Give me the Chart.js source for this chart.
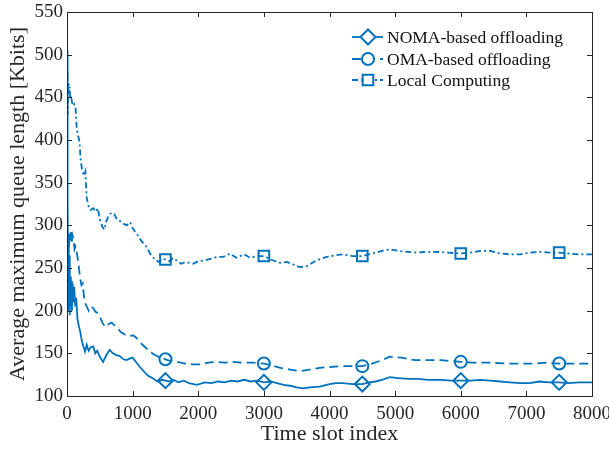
<!DOCTYPE html>
<html>
<head>
<meta charset="utf-8">
<script src="https://cdn.jsdelivr.net/npm/chart.js@4.4.0/dist/chart.umd.min.js"></script>
<style>
  html, body { margin: 0; padding: 0; background: #fff; }
  #wrap { width: 609px; height: 449px; }
</style>
</head>
<body>
<div id="wrap"><canvas id="chart"></canvas></div>
<script>
'use strict'

// data
const nomaX = [0,3,6,10,14,18,24,30,36,42,50,58,66,75,85,95,110,125,140,160,180,200,225,250,275,300,330,360,400,430,460,500,550,600,650,700,750,800,860,910,960,1000,1060,1110,1170,1230,1300,1380,1450,1500,1560,1620,1700,1780,1860,1980,2100,2200,2300,2400,2500,2600,2700,2800,2900,3000,3100,3200,3300,3400,3500,3600,3700,3850,4000,4100,4200,4350,4500,4600,4700,4800,4920,5050,5200,5350,5500,5700,5850,6000,6150,6300,6450,6600,6750,6900,7050,7200,7350,7500,7650,7800,8000]
const nomaY = [505,300,420,260,330,240,290,200,265,195,240,205,235,200,232,210,228,205,215,190,182,176,165,158,152,160,153,157,158,150,153,146,140,148,154,150,148,147,143,142,144,145,139,134,129,124,121,117,119,118,117,119,116,118,115,113,116,115,117,116,118,117,119,117,118,116,117,115,113,112,110,109,110,111,114,115,115,114,114,116,117,119,122,121,120,120,119,119,118,118,118,119,118,117,116,115,115,117,116,116,115,116,116]

const omaX = [0,5,10,16,22,30,40,50,60,70,85,100,115,130,150,175,200,220,240,260,280,300,330,360,400,430,470,500,540,580,630,680,720,760,820,880,940,1010,1060,1110,1180,1260,1340,1420,1500,1580,1670,1800,1920,2030,2150,2280,2400,2530,2650,2760,2840,3000,3120,3250,3400,3550,3700,3850,4000,4200,4350,4500,4650,4800,4920,5100,5300,5500,5700,5850,6000,6200,6450,6700,6900,7100,7300,7500,7700,8000]
const omaY = [300,250,290,265,288,275,290,282,292,280,288,283,272,275,268,255,238,230,232,215,208,205,200,205,203,199,197,193,186,181,184,186,183,180,175,172,170,171,168,163,158,152,148,145,143,141,140,138,137,137,139,140,139,140,139,139,139,138,136,133,131,129,131,133,134,135,135,135,138,142,146,145,142,142,142,141,140,139,139,138,138,138,139,138,138,138]

const localX = [0,4,8,12,16,22,30,40,50,60,75,90,110,130,150,170,190,210,230,260,280,300,330,360,400,440,470,500,540,570,600,640,680,720,760,810,860,910,960,1000,1040,1080,1130,1210,1280,1340,1400,1450,1500,1560,1620,1680,1740,1800,1920,2000,2100,2200,2285,2380,2484,2580,2700,2789,2900,3000,3100,3246,3350,3450,3550,3650,3805,3957,4100,4206,4350,4500,4650,4800,4922,5050,5200,5328,5500,5633,5800,6000,6150,6300,6446,6600,6750,6903,7050,7208,7350,7500,7650,7800,8000]
const localY = [495,470,480,430,460,468,455,462,448,452,445,440,442,438,412,405,398,375,365,358,363,332,322,318,320,316,320,307,298,295,305,312,315,313,307,305,302,300,304,297,292,288,282,275,265,260,257,261,260,258,262,258,255,257,255,258,259,261,263,263,267,262,266,262,264,264,260,256,257,254,251,252,259,263,265,266,264,264,267,270,272,270,269,268,269,269,268,267,268,270,270,267,266,266,268,269,268,268,267,266,266]

const markX = [1500, 3000, 4500, 6000, 7500]
const xTicks = [0, 1000, 2000, 3000, 4000, 5000, 6000, 7000, 8000]
const yTicks = [100, 150, 200, 250, 300, 350, 400, 450, 500, 550]

const seriesNames = ['NOMA-based offloading', 'OMA-based offloading', 'Local Computing']

const blue = '#0072BD'
const ink = '#262626'
const serif = "'Liberation Serif', 'DejaVu Serif', serif"

const toPts = (xs, ys) => xs.map((x, i) => ({ x: x, y: ys[i] }))

const makeSet = (name, xs, ys, dash, style, radius) => ({
    label: name,
    data: toPts(xs, ys),
    borderColor: blue,
    borderWidth: 1.8,
    borderDash: dash,
    pointStyle: style,
    markRadius: radius,
    pointRadius: c => markX.includes(c.raw && c.raw.x) ? radius : 0,
    pointHoverRadius: 0,
    pointBorderColor: blue,
    pointBackgroundColor: 'rgba(0,0,0,0)',
    pointBorderWidth: 2,
    tension: 0
})

const sets = [
    makeSet(seriesNames[0], nomaX, nomaY, [], 'rectRot', 7.5),
    makeSet(seriesNames[1], omaX, omaY, [9, 5], 'circle', 6),
    makeSet(seriesNames[2], localX, localY, [6, 3, 2, 3], 'rect', 7.5)
]

// MATLAB style box with inward ticks + legend inside the axes
const framePlugin = {
    id: 'frame',
    afterDraw(chart) {
        const { ctx, chartArea: a, scales } = chart
        ctx.save()
        ctx.strokeStyle = ink
        ctx.lineWidth = 1
        ctx.setLineDash([])
        ctx.strokeRect(a.left + 0.5, a.top + 0.5, a.right - a.left, a.bottom - a.top)
        const len = 5
        ctx.beginPath()
        xTicks.forEach(v => {
            const px = Math.round(scales.x.getPixelForValue(v)) + 0.5
            ctx.moveTo(px, a.bottom); ctx.lineTo(px, a.bottom - len)
            ctx.moveTo(px, a.top); ctx.lineTo(px, a.top + len)
        })
        yTicks.forEach(v => {
            const py = Math.round(scales.y.getPixelForValue(v)) + 0.5
            ctx.moveTo(a.left, py); ctx.lineTo(a.left + len, py)
            ctx.moveTo(a.right, py); ctx.lineTo(a.right - len, py)
        })
        ctx.stroke()

        // legend
        const lx0 = 352, lx1 = 383, mx = 368, tx = 387
        const rows = [37, 59, 80]
        ctx.font = '17.5px ' + serif
        ctx.textBaseline = 'middle'
        sets.forEach((ds, i) => {
            const y = rows[i]
            ctx.strokeStyle = blue
            ctx.lineWidth = 1.8
            ctx.setLineDash(ds.borderDash)
            ctx.beginPath()
            ctx.moveTo(lx0, y); ctx.lineTo(lx1, y)
            ctx.stroke()
            ctx.setLineDash([])
            ctx.lineWidth = 2
            ctx.fillStyle = '#fff'
            Chart.helpers.drawPoint(ctx, {
                pointStyle: ds.pointStyle,
                radius: ds.markRadius,
                rotation: 0,
                borderWidth: 2
            }, mx, y)
            ctx.fillStyle = '#111'
            ctx.fillText(ds.label, tx, y + 1)
        })
        ctx.restore()
    }
}

const config = {
    type: 'line',
    data: { datasets: sets },
    options: {
        responsive: false,
        animation: false,
        layout: { padding: { left: 0, right: 17, top: 12, bottom: 0 } },
        plugins: {
            legend: { display: false },
            tooltip: { enabled: false }
        },
        scales: {
            x: {
                type: 'linear',
                min: 0,
                max: 8000,
                afterFit: s => {
                    s.height = 53
                    s.paddingLeft = 0
                    s.paddingRight = 0
                },
                afterBuildTicks: s => { s.ticks = xTicks.map(v => ({ value: v })) },
                grid: { display: false, drawTicks: false },
                border: { display: false },
                ticks: {
                    color: ink,
                    font: { family: serif, size: 19 },
                    padding: 7,
                    maxRotation: 0,
                    callback: v => String(v)
                },
                title: {
                    display: true,
                    text: 'Time slot index',
                    color: ink,
                    font: { family: serif, size: 22 },
                    padding: { top: 0, bottom: 2 }
                }
            },
            y: {
                min: 100,
                max: 550,
                afterFit: s => {
                    s.width = 67
                    s.paddingTop = 0
                    s.paddingBottom = 0
                },
                afterBuildTicks: s => { s.ticks = yTicks.map(v => ({ value: v })) },
                grid: { display: false, drawTicks: false },
                border: { display: false },
                ticks: {
                    color: ink,
                    font: { family: serif, size: 19 },
                    padding: 4,
                    callback: v => String(v)
                },
                title: {
                    display: true,
                    text: 'Average maximum queue length [Kbits]',
                    color: ink,
                    font: { family: serif, size: 22 },
                    padding: { top: 5, bottom: 0 }
                }
            }
        }
    },
    plugins: [framePlugin]
}

const canvas = document.querySelector('#chart')
canvas.width = 609
canvas.height = 449
const chart = new Chart(canvas.getContext('2d'), config)
</script>
</body>
</html>
